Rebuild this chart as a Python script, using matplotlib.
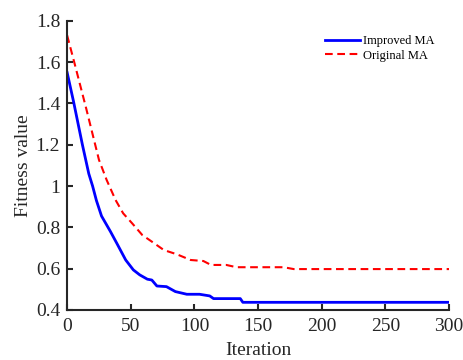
import matplotlib
matplotlib.use('Agg')
import matplotlib.pyplot as plt
from matplotlib import rcParams

rcParams['font.family'] = 'Liberation Serif'

# data
iter_improved = [0, 5, 12, 17, 20, 23, 27, 34, 39, 46, 52, 57, 63, 66.5, 70.5, 78, 85, 94, 104,
                 112, 115, 136, 138, 300]
fit_improved = [1.55, 1.41, 1.20, 1.06, 1.0, 0.93, 0.855, 0.78, 0.723, 0.642, 0.594, 0.57, 0.549,
                0.545, 0.516, 0.513, 0.489, 0.476, 0.476, 0.468, 0.455, 0.455, 0.437, 0.437]

iter_original = [0, 6, 15, 25, 31, 38, 44, 51, 59, 66.5, 76, 86, 97, 107, 113, 125, 133, 170, 178, 300]
fit_original = [1.73, 1.59, 1.375, 1.127, 1.03, 0.933, 0.868, 0.82, 0.763, 0.731, 0.69, 0.67, 0.642,
                0.637, 0.618, 0.618, 0.607, 0.607, 0.598, 0.598]

xticks = [0, 50, 100, 150, 200, 250, 300]
yticks = [0.4, 0.6, 0.8, 1.0, 1.2, 1.4, 1.6, 1.8]
yticklabels = ['0.4', '0.6', '0.8', '1', '1.2', '1.4', '1.6', '1.8']

font_size = 14

fig = plt.figure(figsize=(4.63, 3.6), dpi=100)
ax = fig.add_axes([0.145, 0.139, 0.825, 0.803])

ax.plot(iter_improved, fit_improved, color='blue', linestyle='-', linewidth=2.0, label='Improved MA')
ax.plot(iter_original, fit_original, color='red', linestyle='--', linewidth=1.5,
        dashes=(3.7, 2.2), label='Original MA')

ax.set_xlim(0, 300)
ax.set_ylim(0.4, 1.8)
ax.set_xticks(xticks)
ax.set_yticks(yticks)
ax.set_yticklabels(yticklabels)
ax.tick_params(direction='in', length=4, width=1.5, labelsize=font_size, colors='#262626')
ax.tick_params(axis='x', pad=6)
ax.tick_params(axis='y', pad=5)

for s in ['top', 'right']:
    ax.spines[s].set_visible(False)
for s in ['left', 'bottom']:
    ax.spines[s].set_linewidth(1.5)
    ax.spines[s].set_color('#262626')

ax.set_xlabel('Iteration', fontsize=font_size, color='#262626', labelpad=5)
ax.set_ylabel('Fitness value', fontsize=font_size, color='#262626', labelpad=3)

ax.legend(loc='upper right', bbox_to_anchor=(0.99, 0.99), frameon=False, fontsize=9,
          handlelength=2.8, handletextpad=0.2, labelspacing=0.2)

fig.savefig('out.png', dpi=100)
